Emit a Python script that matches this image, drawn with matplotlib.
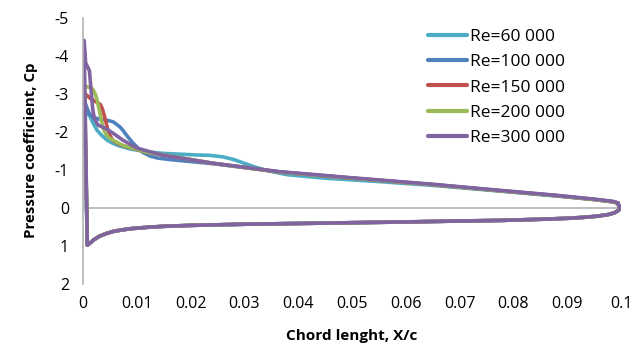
import matplotlib
matplotlib.use("Agg")
import matplotlib.pyplot as plt

plt.rcParams['font.family'] = ['Open Sans', 'DejaVu Sans']

labels = ["Re=60 000", "Re=100 000", "Re=150 000", "Re=200 000", "Re=300 000"]
colors = ["#4BACC6", "#4F81BD", "#C0504D", "#9BBB59", "#8064A2"]

# Upper surface (leading edge -> trailing edge)
x_up_60 = [0.0003, 0.0006, 0.0009, 0.0013, 0.0019, 0.0026, 0.0035, 0.0045, 0.0056, 0.0069, 0.009, 0.0119, 0.015, 0.018, 0.021,
           0.0235, 0.026, 0.028, 0.030, 0.032, 0.0345, 0.038, 0.045, 0.055, 0.065, 0.0775, 0.088, 0.095, 0.0985, 0.0995]
cp_up_60 = [-2.3, -2.5, -2.5, -2.4, -2.22, -2.04, -1.9, -1.78, -1.69, -1.62, -1.54, -1.47, -1.43, -1.41, -1.39,
            -1.38, -1.34, -1.27, -1.17, -1.07, -0.97, -0.87, -0.78, -0.69, -0.59, -0.44, -0.31, -0.22, -0.16, -0.12]

x_up_100 = [0.0003, 0.0008, 0.0013, 0.0019, 0.003, 0.0045, 0.0056, 0.0063, 0.0069, 0.0074, 0.0083, 0.0093, 0.0103, 0.0112, 0.0125,
            0.0138, 0.016, 0.0242, 0.0366, 0.05, 0.065, 0.0775, 0.088, 0.095, 0.0985, 0.0995]
cp_up_100 = [-2.8, -2.6, -2.45, -2.38, -2.33, -2.3, -2.26, -2.19, -2.12, -2.04, -1.87, -1.7, -1.56, -1.45, -1.36,
             -1.31, -1.27, -1.16, -0.94, -0.78, -0.61, -0.45, -0.32, -0.22, -0.16, -0.12]

x_up_150 = [0.0003, 0.0008, 0.0013, 0.0022, 0.0032, 0.0036, 0.004, 0.0045, 0.005, 0.0056, 0.0069, 0.0082, 0.0119, 0.0242, 0.0366,
            0.05, 0.065, 0.0775, 0.088, 0.095, 0.0985, 0.0995]
cp_up_150 = [-3.0, -2.95, -2.88, -2.8, -2.72, -2.6, -2.4, -2.12, -1.9, -1.76, -1.66, -1.6, -1.46, -1.17, -0.94,
             -0.78, -0.61, -0.45, -0.32, -0.22, -0.16, -0.12]

x_up_200 = [0.0003, 0.0008, 0.0015, 0.0019, 0.0023, 0.0026, 0.0029, 0.0032, 0.0037, 0.0043, 0.005, 0.0074, 0.0119, 0.0242, 0.0366,
            0.05, 0.065, 0.0775, 0.088, 0.095, 0.0985, 0.0995]
cp_up_200 = [-3.2, -3.18, -3.15, -3.1, -2.98, -2.85, -2.65, -2.45, -2.1, -1.92, -1.82, -1.64, -1.46, -1.17, -0.94,
             -0.78, -0.61, -0.45, -0.32, -0.22, -0.16, -0.12]

x_up_300 = [0.0002, 0.0005, 0.0008, 0.0012, 0.0015, 0.0018, 0.0021, 0.0028, 0.0037, 0.0045, 0.0056, 0.0074, 0.010, 0.0149, 0.0242,
            0.0366, 0.05, 0.065, 0.0775, 0.088, 0.095, 0.0985, 0.0995]
cp_up_300 = [-4.4, -3.8, -3.72, -3.6, -3.1, -2.6, -2.35, -2.17, -2.12, -2.06, -1.96, -1.78, -1.57, -1.38, -1.17,
             -0.95, -0.79, -0.62, -0.46, -0.33, -0.23, -0.17, -0.13]

# Lower surface (leading edge -> trailing edge)
x_low = [0.0008, 0.0012, 0.002, 0.003, 0.0042, 0.0056, 0.0072, 0.009, 0.012, 0.015, 0.02, 0.025, 0.03, 0.04, 0.05, 0.06, 0.07,
         0.0775, 0.085, 0.09, 0.093, 0.0955, 0.0975, 0.0988, 0.0996, 0.0998, 0.0994]
cp_low = [0.98, 0.94, 0.84, 0.75, 0.68, 0.62, 0.58, 0.545, 0.51, 0.485, 0.46, 0.445, 0.43, 0.41, 0.39, 0.37, 0.345,
          0.33, 0.3, 0.275, 0.25, 0.22, 0.18, 0.13, 0.06, -0.03, -0.1]

uppers = [(x_up_60, cp_up_60), (x_up_100, cp_up_100), (x_up_150, cp_up_150),
          (x_up_200, cp_up_200), (x_up_300, cp_up_300)]

fig = plt.figure(figsize=(6.44, 3.47), dpi=100)
ax = fig.add_axes([83/644, (347-284)/347, 538/644, 266.5/347])

for (xu, cu), lab, col in zip(uppers, labels, colors):
    xs = list(reversed(xu)) + x_low
    cs = list(reversed(cu)) + cp_low
    ax.plot(xs, cs, color=col, lw=2.6, label=lab, solid_joinstyle='round', solid_capstyle='round')

ax.set_xlim(0, 0.1)
ax.set_ylim(2, -5)
ax.set_xticks([i/100 for i in range(11)])
ax.set_xticklabels(["0"] + ["0.%02d" % i for i in range(1, 10)] + ["0.1"])
ax.set_yticks(range(-5, 3))
ax.set_yticklabels([str(v) for v in range(-5, 3)])
ax.axhline(0, color="#B3B3B3", lw=1.2, zorder=0)

for s in ['top', 'right', 'bottom']:
    ax.spines[s].set_visible(False)
ax.spines['left'].set_color("#B3B3B3")
ax.spines['left'].set_linewidth(1.2)
ax.tick_params(length=0, labelsize=11.5, pad=10)
ax.tick_params(axis='x', pad=9)

ax.set_xlabel("Chord lenght, X/c", fontsize=11, fontweight='bold', labelpad=12)
ax.set_ylabel("Pressure coefficient, Cp", fontsize=10.8, fontweight='bold', labelpad=12)

leg = ax.legend(loc='upper left', bbox_to_anchor=(428/644, 1 - 29/347), bbox_transform=fig.transFigure,
                frameon=False, fontsize=12.5, handlelength=2.25, handletextpad=0.17,
                labelspacing=0.52, borderpad=0, borderaxespad=0)
for l in leg.get_lines():
    l.set_linewidth(3)

fig.savefig("out.png", dpi=100)
